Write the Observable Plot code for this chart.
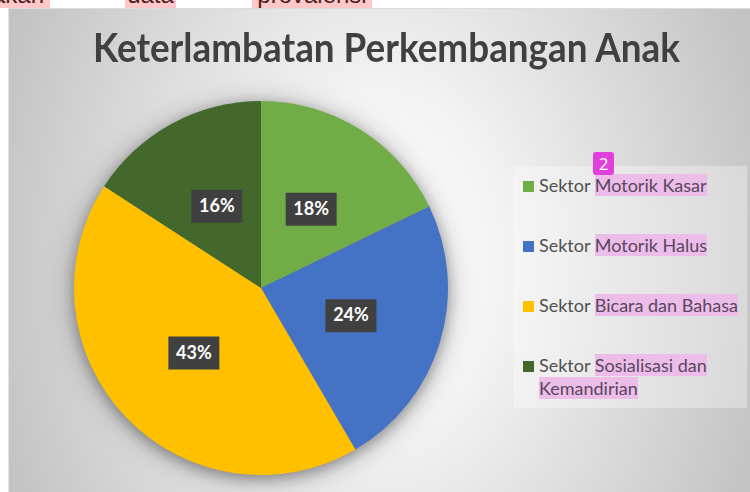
<!DOCTYPE html>
<html><head><meta charset="utf-8">
<script src="https://cdn.jsdelivr.net/npm/d3@7"></script>
<script src="https://cdn.jsdelivr.net/npm/@observablehq/plot@0.6"></script>
<style>
html,body{margin:0;padding:0;background:#fff;}
#root{position:relative;width:750px;height:492px;overflow:hidden;font-family:Lato,sans-serif;}
#doc{position:absolute;top:-18px;left:0;width:750px;height:26px;font-family:"Liberation Sans",Arial,sans-serif;font-size:24px;color:#4a1c1c;white-space:nowrap;}
#doc span{position:absolute;top:0;height:26px;line-height:26px;background:#ffc8c8;text-align:center;}
#chart{position:absolute;left:8px;top:8px;width:742px;height:484px;box-sizing:border-box;border-top:1px solid #dcdcdc;border-left:1px solid #e2e2e2;
  background:radial-gradient(ellipse 400px 560px at 371px 252px,#ffffff 0%,#f3f3f3 30%,#c3c3c3 100%);}
#plot{position:absolute;left:9px;top:9px;}
#title{position:absolute;left:93px;top:26px;font-size:41px;line-height:41px;font-weight:700;color:#404040;white-space:nowrap;transform-origin:0 0;}
#legendbox{position:absolute;left:513px;top:166px;width:234px;height:242px;background:rgba(255,255,255,0.32);}
.item{position:absolute;left:523px;width:222px;}
.sw{position:absolute;left:0;width:11px;height:11px;}
.lt{position:absolute;left:16px;width:206px;font-size:18px;line-height:23px;color:#505050;}
.hl{background:#ecbde8;color:#5a4660;}
#badge{position:absolute;left:593px;top:152px;width:21px;height:23px;background:#e03fd9;border-radius:3px;color:#fff;font-family:"Open Sans",sans-serif;font-size:17px;line-height:23px;text-align:center;}
.pie{filter:drop-shadow(0px 4px 7px rgba(0,0,0,0.3)) drop-shadow(0px 2px 14px rgba(0,0,0,0.25));}
g[aria-label="boxes"]{filter:drop-shadow(2px 2px 2px rgba(0,0,0,0.45));}
</style>
</head>
<body>
<div id="root">
  <div id="doc"><span style="left:-14px;width:64px">akan</span><span style="left:125px;width:51px">data</span><span style="left:252px;width:120px">provaiensi</span></div>
  <div id="chart"></div>
  <div id="plot"></div>
  <div id="title"></div>
  <div id="legendbox"></div>
  <div id="legend"></div>
  <div id="badge">2</div>
</div>
<script>
// ---- data ----
const title = "Keterlambatan Perkembangan Anak";
const categories = ["Sektor Motorik Kasar", "Sektor Motorik Halus", "Sektor Bicara dan Bahasa", "Sektor Sosialisasi dan Kemandirian"];
const values = [18, 24, 43, 16];
const colors = ["#70AD47", "#4472C4", "#FFC000", "#43682B"];

const data = categories.map((c, i) => ({category: c, value: values[i]}));
const color = d3.scaleOrdinal(categories, colors);
const arcs = d3.pie().sort(null).value(d => d.value)(data);
const labels = arcs.map(a => {
  const m = (a.startAngle + a.endAngle) / 2;
  return {x: 0.5 * Math.sin(m), y: 0.5 * Math.cos(m), label: a.data.value + "%"};
});

function pieMark(index, scales) {
  const cx = scales.x(0), cy = scales.y(0), r = scales.x(1) - scales.x(0);
  const arc = d3.arc().innerRadius(0).outerRadius(r);
  const g = d3.create("svg:g").attr("class", "pie").attr("transform", `translate(${cx},${cy})`);
  g.selectAll("path").data(arcs).join("path").attr("d", arc).attr("fill", d => color(d.data.category));
  return g.node();
}

const boxSymbol = {draw(ctx) { ctx.rect(-25.5, -16.5, 51, 33); }};

const chart = Plot.plot({
  width: 741, height: 483,
  marginLeft: 65, marginRight: 302, marginTop: 92, marginBottom: 17,
  x: {domain: [-1, 1], axis: null},
  y: {domain: [-1, 1], axis: null},
  style: {background: "transparent"},
  marks: [
    pieMark,
    Plot.dot(labels, {x: "x", y: "y", symbol: boxSymbol, fill: "#404040", stroke: null, ariaLabel: "boxes"}),
    Plot.text(labels, {x: "x", y: "y", text: "label", fill: "white", fontSize: 18, fontWeight: "bold", fontFamily: "Lato"})
  ]
});
document.getElementById("plot").appendChild(chart);

// title
const t = document.getElementById("title");
t.textContent = title;
const w = t.getBoundingClientRect().width;
t.style.transform = `scaleX(${587 / w})`;

// legend
const lg = d3.select("#legend");
categories.forEach((c, i) => {
  const it = lg.append("div").attr("class", "item").style("top", (173.5 + 60 * i) + "px");
  it.append("div").attr("class", "sw").style("top", "7.5px").style("background", colors[i]);
  const sp = c.indexOf(" ");
  const lt = it.append("div").attr("class", "lt");
  lt.append("span").text(c.slice(0, sp + 1));
  lt.append("span").attr("class", "hl").text(c.slice(sp + 1));
});
</script>
</body></html>
